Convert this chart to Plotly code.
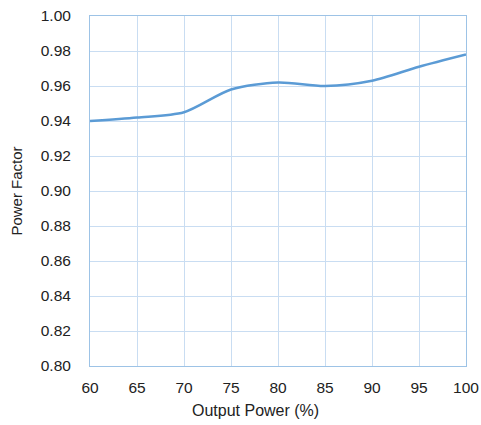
import plotly.graph_objects as go

output_power = [60, 65, 70, 75, 80, 85, 90, 95, 100]
power_factor = [0.940, 0.942, 0.945, 0.958, 0.962, 0.960, 0.963, 0.971, 0.978]
x_ticks = [60, 65, 70, 75, 80, 85, 90, 95, 100]
y_ticks = [0.80, 0.82, 0.84, 0.86, 0.88, 0.90, 0.92, 0.94, 0.96, 0.98, 1.00]

FONT = "Liberation Sans, Arial"

fig = go.Figure()
fig.add_trace(go.Scatter(
    x=output_power, y=power_factor, mode="lines",
    line=dict(color="#5B9BD5", width=2.5, shape="spline", smoothing=0.8),
    showlegend=False, hoverinfo="skip",
))

axis_common = dict(
    showgrid=True, gridcolor="#C9DDF2", gridwidth=1,
    showline=True, linecolor="#9DC3E6", linewidth=1, mirror=True,
    zeroline=False, ticks="", automargin=False, ticklabeloverflow="allow",
    tickfont=dict(family=FONT, size=15.5, color="#222"),
)

fig.update_layout(
    width=481, height=425,
    margin=dict(l=90, r=15, t=16, b=59),
    plot_bgcolor="white", paper_bgcolor="white",
    xaxis=dict(range=[60, 100], tickvals=x_ticks, ticktext=[str(v) for v in x_ticks],
               ticklabelstandoff=7,
               **axis_common),
    yaxis=dict(range=[0.80, 1.00], tickvals=y_ticks, ticktext=[f"{v:.2f}" for v in y_ticks],
               ticklabelstandoff=15,
               title=dict(text="Power Factor", font=dict(family=FONT, size=15, color="#222"), standoff=14),
               **axis_common),
    annotations=[dict(
        text="Output Power (%)", xref="paper", yref="paper",
        x=0.439, y=-0.126, xanchor="center", yanchor="middle",
        showarrow=False, font=dict(family=FONT, size=16, color="#222"),
    )],
)

fig.write_html(
    "out.html",
    config={"displayModeBar": False},
    post_script="document.body.style.margin='0';document.body.style.overflow='hidden';",
)
